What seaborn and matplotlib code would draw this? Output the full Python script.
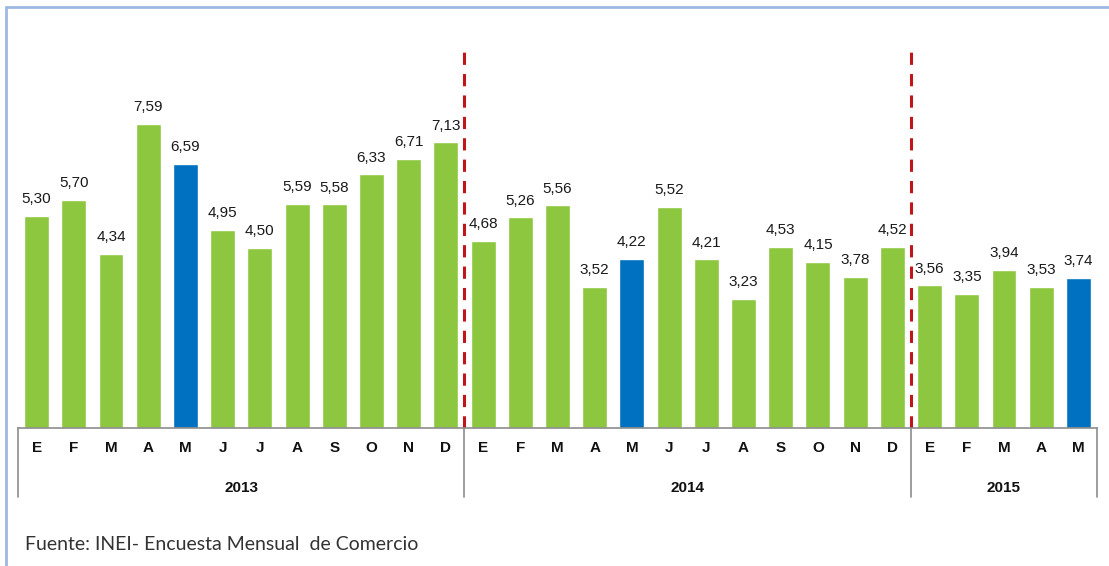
import matplotlib
matplotlib.use("Agg")
import matplotlib.pyplot as plt
import seaborn as sns
import pandas as pd

# ── Datos ──────────────────────────────────────────────────────────────
meses = ["E", "F", "M", "A", "M", "J", "J", "A", "S", "O", "N", "D",
         "E", "F", "M", "A", "M", "J", "J", "A", "S", "O", "N", "D",
         "E", "F", "M", "A", "M"]
valores = [5.30, 5.70, 4.34, 7.59, 6.59, 4.95, 4.50, 5.59, 5.58, 6.33, 6.71, 7.13,
           4.68, 5.26, 5.56, 3.52, 4.22, 5.52, 4.21, 3.23, 4.53, 4.15, 3.78, 4.52,
           3.56, 3.35, 3.94, 3.53, 3.74]
anios = ["2013", "2014", "2015"]
meses_por_anio = [12, 12, 5]
resaltado = [4, 16, 28]   # mayo de cada año en azul

VERDE = "#8DC63F"
AZUL = "#0070C0"

sns.set_style("white")
plt.rcParams["font.family"] = ["Liberation Sans", "DejaVu Sans"]

df = pd.DataFrame({
    "pos": range(len(valores)),
    "valor": valores,
    "tipo": ["mayo" if i in resaltado else "otro" for i in range(len(valores))],
})

W, H = 1109, 566
fig = plt.figure(figsize=(W / 100, H / 100), dpi=100)
ax = fig.add_axes([18 / W, 1 - 428 / H, (1097 - 18) / W, (428 - 45) / H])

sns.barplot(data=df, x="pos", y="valor", hue="tipo",
            palette={"mayo": AZUL, "otro": VERDE}, dodge=False,
            width=0.67, legend=False, ax=ax, saturation=1)

ax.set_xlim(-0.5, len(valores) - 0.5)
ax.set_ylim(0, 9.56)
ax.set_xlabel("")
ax.set_ylabel("")
ax.set_yticks([])
ax.set_xticks([])
for s in ["top", "right", "left"]:
    ax.spines[s].set_visible(False)
ax.spines["bottom"].set_color("#8c8c8c")
ax.spines["bottom"].set_linewidth(1.2)

# etiquetas de valor
for i, v in enumerate(valores):
    ax.annotate(f"{v:.2f}".replace(".", ","), (i, v), xytext=(0, 7),
                textcoords="offset points", ha="center", va="bottom",
                fontsize=11, color="#1a1a1a")

# meses
tr = ax.get_xaxis_transform()
for i, m in enumerate(meses):
    ax.text(i, -0.052, m, transform=tr, ha="center", va="center",
            fontsize=11, fontweight="bold", color="#111111")

# años y separadores
inicio = 0
bordes = [-0.5]
for anio, n in zip(anios, meses_por_anio):
    centro = inicio + (n - 1) / 2
    ax.text(centro, -0.157, anio, transform=tr, ha="center", va="center",
            fontsize=11, fontweight="bold", color="#111111")
    inicio += n
    bordes.append(inicio - 0.5)
for b in bordes:
    ax.plot([b, b], [0, -0.18], transform=tr, color="#8c8c8c",
            lw=1.2, clip_on=False)

# líneas rojas entre años
for b in bordes[1:-1]:
    ax.axvline(b, color="#C0151B", lw=2.2, ls=(0, (4, 3)))

# marco azul claro
fig.add_artist(plt.Line2D([6 / W, 6 / W], [0, 1 - 7 / H], color="#9DB9E3",
                          lw=2, transform=fig.transFigure))
fig.add_artist(plt.Line2D([6 / W, 1], [1 - 7 / H, 1 - 7 / H], color="#9DB9E3",
                          lw=2, transform=fig.transFigure))

fig.text(25 / W, 1 - 545 / H, "Fuente: INEI- Encuesta Mensual  de Comercio",
         fontsize=14, family=["Lato", "DejaVu Sans"], color="#333333",
         va="center", ha="left")

fig.savefig("out.png", dpi=100)
